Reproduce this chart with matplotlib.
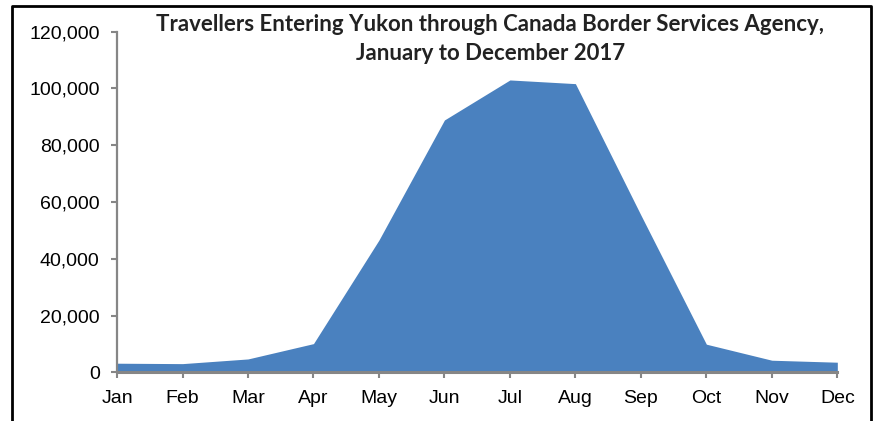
import matplotlib
matplotlib.use("Agg")
import matplotlib.pyplot as plt
from matplotlib.lines import Line2D
from matplotlib.ticker import FuncFormatter

# Monthly travellers entering Yukon
months = ["Jan", "Feb", "Mar", "Apr", "May", "Jun",
          "Jul", "Aug", "Sep", "Oct", "Nov", "Dec"]
travellers = [3200, 3050, 4700, 10100, 46600, 88900,
              103000, 101700, 55400, 9900, 4250, 3550]

title = ("Travellers Entering Yukon through Canada Border Services Agency,\n"
         "January to December 2017")

fill_color = "#4a81bf"
axis_gray = "#868686"

fig = plt.figure(figsize=(8.8, 4.21), dpi=100)
ax = fig.add_axes([0.133, 0.1157, 0.8185, 0.809])

x = list(range(len(months)))
ax.fill_between(x, travellers, 0, color=fill_color, linewidth=0)

ax.set_xlim(0, len(months) - 1)
ax.set_ylim(0, 120000)
ax.set_xticks(x)
ax.set_xticklabels(months)
ax.set_yticks(range(0, 120001, 20000))
ax.yaxis.set_major_formatter(FuncFormatter(lambda v, p: f"{int(v):,}"))

for side in ("top", "right"):
    ax.spines[side].set_visible(False)
for side in ("left", "bottom"):
    ax.spines[side].set_color(axis_gray)
    ax.spines[side].set_linewidth(1.6)
ax.spines["bottom"].set_linewidth(2.2)

ax.tick_params(axis="both", colors=axis_gray, width=1.5, length=4.5,
               pad=8, labelcolor="black", labelsize=14)
for lbl in ax.get_xticklabels() + ax.get_yticklabels():
    lbl.set_family("Liberation Sans")

fig.text(0.557, 1 - 14 / 421, title, ha="center", va="top",
         fontsize=16, fontweight="bold", family="Lato",
         color="#222222", linespacing=1.45)

# outer frame (cropped at the bottom)
frame_x = [11.5 / 880, 11.5 / 880, 871 / 880, 871 / 880]
frame_y = [-0.1, 1 - 6 / 421, 1 - 6 / 421, -0.1]
fig.add_artist(Line2D(frame_x, frame_y, transform=fig.transFigure,
                      color="black", linewidth=2, clip_on=False))

fig.savefig("out.png", dpi=100)
